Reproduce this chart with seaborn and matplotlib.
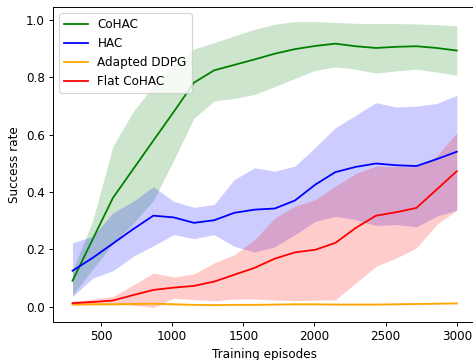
import matplotlib
matplotlib.use("Agg")
import matplotlib.pyplot as plt
import seaborn as sns
import numpy as np

episodes = [300, 442, 584, 726, 868, 1011, 1153, 1295, 1437, 1579,
            1721, 1863, 2005, 2147, 2289, 2432, 2574, 2716, 2858, 3000]

cohac_mean = [0.090, 0.235, 0.379, 0.479, 0.579, 0.679, 0.781, 0.824, 0.843, 0.862,
              0.882, 0.898, 0.909, 0.917, 0.908, 0.902, 0.906, 0.908, 0.902, 0.893]
cohac_low = [0.040, 0.130, 0.220, 0.290, 0.370, 0.510, 0.657, 0.717, 0.726, 0.740,
             0.767, 0.796, 0.824, 0.836, 0.828, 0.814, 0.822, 0.828, 0.818, 0.807]
cohac_high = [0.125, 0.300, 0.559, 0.680, 0.770, 0.845, 0.898, 0.921, 0.944, 0.967,
              0.985, 0.994, 0.994, 0.991, 0.988, 0.987, 0.987, 0.986, 0.983, 0.979]

hac_mean = [0.125, 0.170, 0.220, 0.270, 0.317, 0.311, 0.292, 0.301, 0.327, 0.338,
            0.342, 0.370, 0.425, 0.469, 0.487, 0.499, 0.493, 0.490, 0.514, 0.540]
hac_low = [0.035, 0.099, 0.125, 0.175, 0.212, 0.251, 0.237, 0.251, 0.210, 0.190,
           0.208, 0.251, 0.297, 0.315, 0.303, 0.283, 0.286, 0.278, 0.315, 0.336]
hac_high = [0.222, 0.245, 0.327, 0.367, 0.418, 0.367, 0.346, 0.356, 0.443, 0.484,
            0.472, 0.490, 0.555, 0.624, 0.667, 0.711, 0.696, 0.699, 0.708, 0.737]

ddpg_mean = [0.007, 0.008, 0.008, 0.009, 0.010, 0.008, 0.006, 0.005, 0.006, 0.006,
             0.007, 0.008, 0.008, 0.007, 0.007, 0.007, 0.008, 0.009, 0.010, 0.011]
ddpg_low = [0.003, 0.004, 0.004, 0.005, 0.006, 0.004, 0.003, 0.002, 0.003, 0.003,
            0.004, 0.005, 0.005, 0.004, 0.004, 0.004, 0.005, 0.006, 0.007, 0.008]
ddpg_high = [0.011, 0.012, 0.012, 0.013, 0.014, 0.012, 0.009, 0.008, 0.009, 0.009,
             0.010, 0.011, 0.011, 0.010, 0.010, 0.010, 0.011, 0.012, 0.013, 0.014]

flat_mean = [0.012, 0.016, 0.021, 0.040, 0.058, 0.066, 0.072, 0.087, 0.111, 0.135,
             0.167, 0.189, 0.198, 0.222, 0.274, 0.317, 0.329, 0.344, 0.408, 0.472]
flat_low = [0.005, 0.008, 0.012, 0.005, -0.003, 0.029, 0.024, 0.020, 0.026, 0.026,
            0.023, 0.020, 0.023, 0.023, 0.082, 0.140, 0.169, 0.204, 0.286, 0.336]
flat_high = [0.018, 0.026, 0.035, 0.075, 0.117, 0.103, 0.114, 0.152, 0.181, 0.233,
             0.309, 0.350, 0.373, 0.420, 0.464, 0.490, 0.488, 0.487, 0.524, 0.606]

series = [
    ("CoHAC", "green", cohac_mean, cohac_low, cohac_high),
    ("HAC", "blue", hac_mean, hac_low, hac_high),
    ("Adapted DDPG", "orange", ddpg_mean, ddpg_low, ddpg_high),
    ("Flat CoHAC", "red", flat_mean, flat_low, flat_high),
]

W, H = 473, 360
DPI = 86
fig = plt.figure(figsize=(W / DPI, H / DPI), dpi=DPI)
ax = fig.add_axes([53.3 / W, 38.3 / H, (476 - 53.3) / W, 314.4 / H])

for name, color, m, lo, hi in series:
    sns.lineplot(x=episodes, y=m, color=color, label=name, ax=ax, linewidth=1.5)
    ax.fill_between(episodes, lo, hi, color=color, alpha=0.2, linewidth=0)

ax.set_xlabel("Training episodes")
ax.set_ylabel("Success rate")
ax.set_xticks([500, 1000, 1500, 2000, 2500, 3000])
ax.set_yticks([0.0, 0.2, 0.4, 0.6, 0.8, 1.0])
ax.legend(loc="upper left")

fig.savefig("out.png", dpi=DPI)
